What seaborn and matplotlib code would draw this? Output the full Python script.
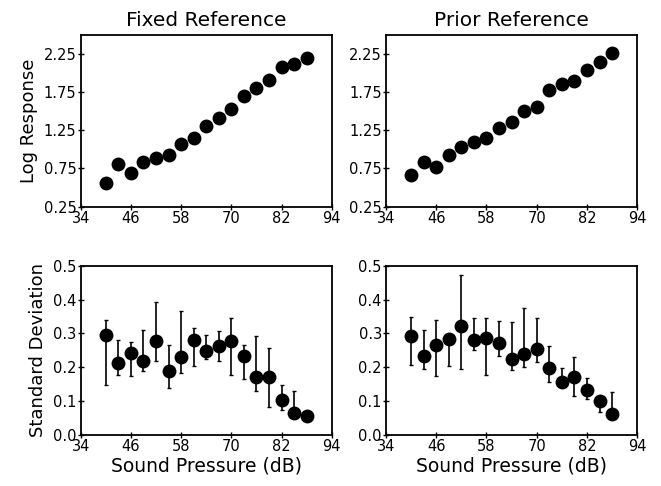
import matplotlib
matplotlib.use("Agg")
import matplotlib.pyplot as plt
import seaborn as sns
import numpy as np
import pandas as pd

sns.set_theme(style="white")
plt.rcParams['font.family'] = ['DejaVu Sans']
plt.rcParams['text.color'] = 'black'
plt.rcParams['axes.labelcolor'] = 'black'
plt.rcParams['xtick.color'] = 'black'
plt.rcParams['ytick.color'] = 'black'

spl = [40, 43, 46, 49, 52, 55, 58, 61, 64, 67, 70, 73, 76, 79, 82, 85, 88]

fixed_log = [0.56, 0.80, 0.69, 0.83, 0.88, 0.93, 1.07, 1.14, 1.30, 1.41, 1.52, 1.69, 1.80, 1.91, 2.07, 2.12, 2.19]
prior_log = [0.66, 0.83, 0.77, 0.93, 1.03, 1.09, 1.15, 1.28, 1.35, 1.50, 1.55, 1.77, 1.85, 1.89, 2.03, 2.14, 2.26]

fixed_sd = [0.295, 0.213, 0.241, 0.220, 0.277, 0.188, 0.230, 0.280, 0.248, 0.263, 0.278, 0.233, 0.172, 0.172, 0.103, 0.064, 0.056]
fixed_hi = [0.341, 0.280, 0.276, 0.311, 0.392, 0.265, 0.367, 0.315, 0.295, 0.306, 0.346, 0.265, 0.292, 0.257, 0.149, 0.131, 0.056]
fixed_lo = [0.147, 0.178, 0.174, 0.189, 0.220, 0.139, 0.184, 0.204, 0.225, 0.220, 0.176, 0.164, 0.130, 0.084, 0.073, 0.055, 0.056]

prior_sd = [0.294, 0.232, 0.265, 0.285, 0.321, 0.282, 0.288, 0.273, 0.225, 0.240, 0.253, 0.199, 0.158, 0.171, 0.133, 0.100, 0.062]
prior_hi = [0.350, 0.309, 0.341, 0.290, 0.474, 0.346, 0.346, 0.336, 0.333, 0.375, 0.346, 0.262, 0.198, 0.230, 0.168, 0.100, 0.126]
prior_lo = [0.206, 0.194, 0.173, 0.204, 0.196, 0.252, 0.178, 0.232, 0.191, 0.200, 0.215, 0.158, 0.150, 0.114, 0.107, 0.067, 0.060]

titles = ["Fixed Reference", "Prior Reference"]
xticks = [34, 46, 58, 70, 82, 94]
log_ticks = [0.25, 0.75, 1.25, 1.75, 2.25]
sd_ticks = [0.0, 0.1, 0.2, 0.3, 0.4, 0.5]

fig = plt.figure(figsize=(6.61, 4.86), dpi=100)
L = [0.122, 0.584]
W = 0.380
axes_top = [fig.add_axes([l, 0.575, W, 0.354]) for l in L]
axes_bot = [fig.add_axes([l, 0.105, W, 0.348]) for l in L]

tickfs = 10.5
labfs = 13

def style(ax):
    for s in ax.spines.values():
        s.set_color("black")
        s.set_linewidth(1.3)
    ax.set_xlim(34, 94)
    ax.set_xticks(xticks)
    ax.set_xticklabels([str(t) for t in xticks], fontsize=tickfs)
    ax.tick_params(direction="inout", length=4, width=1, color="black",
                   labelcolor="black", labelsize=tickfs, pad=1, bottom=True, left=True)
    ax.set_xlabel("")
    ax.set_ylabel("")

for i, (ax, vals) in enumerate(zip(axes_top, [fixed_log, prior_log])):
    df = pd.DataFrame({"spl": spl, "val": vals})
    sns.scatterplot(data=df, x="spl", y="val", ax=ax, s=100, color="black",
                    edgecolor="black", linewidth=0, marker="o", zorder=3)
    style(ax)
    ax.set_ylim(0.25, 2.5)
    ax.set_yticks(log_ticks)
    ax.set_yticklabels([f"{t:.2f}" for t in log_ticks], fontsize=tickfs)
    ax.set_title(titles[i], fontsize=14.5, pad=6, color="black")

for ax, vals, hi, lo in zip(axes_bot, [fixed_sd, prior_sd], [fixed_hi, prior_hi], [fixed_lo, prior_lo]):
    v = np.array(vals); h = np.array(hi); lw = np.array(lo)
    ax.errorbar(spl, v, yerr=[np.clip(v - lw, 0, None), np.clip(h - v, 0, None)],
                fmt="none", ecolor="black", elinewidth=1.2, capsize=1.2, capthick=1, zorder=2)
    df = pd.DataFrame({"spl": spl, "val": vals})
    sns.scatterplot(data=df, x="spl", y="val", ax=ax, s=100, color="black",
                    edgecolor="black", linewidth=0, marker="o", zorder=3)
    style(ax)
    ax.set_ylim(0.0, 0.5)
    ax.set_yticks(sd_ticks)
    ax.set_yticklabels([f"{t:.1f}" for t in sd_ticks], fontsize=tickfs)
    ax.set_xlabel("Sound Pressure (dB)", fontsize=13.5, labelpad=2, color="black")

axes_top[0].set_ylabel("Log Response", fontsize=labfs, labelpad=4, color="black")
axes_bot[0].set_ylabel("Standard Deviation", fontsize=labfs, labelpad=4, color="black")

fig.savefig("out.png", dpi=100)
